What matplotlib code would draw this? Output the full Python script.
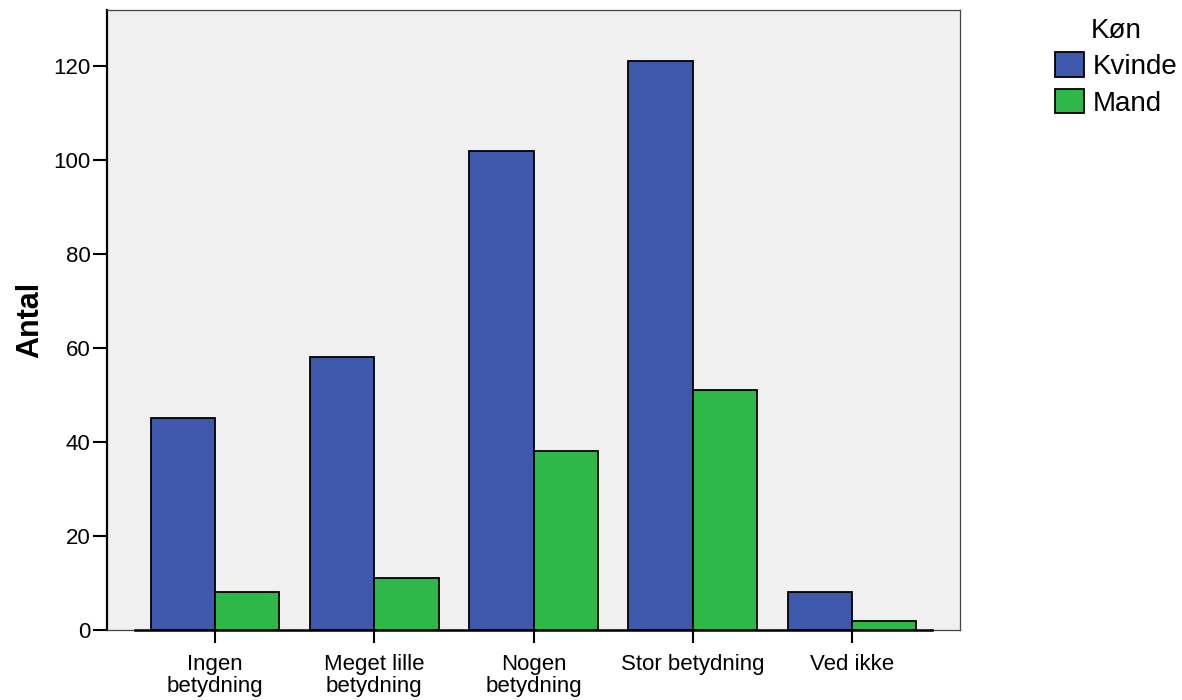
import numpy as np
import matplotlib.pyplot as plt
from matplotlib.patches import Patch

plt.rcParams['font.family'] = ['Liberation Sans', 'DejaVu Sans']

categories = ['Ingen\nbetydning', 'Meget lille\nbetydning', 'Nogen\nbetydning',
              'Stor betydning', 'Ved ikke']
kvinde = [45, 58, 102, 121, 8]
mand = [8, 11, 38, 51, 2]
yticks = [0, 20, 40, 60, 80, 100, 120]

blue = '#3E58AC'
green = '#2EB848'

fig = plt.figure(figsize=(11.82, 7.0), dpi=100)
ax = fig.add_axes([107/1182, 70/700, (960-107)/1182, (630-10)/700])
ax.set_facecolor('#F0F0F0')

x = np.arange(len(categories))
w = 0.404
ax.bar(x - w/2, kvinde, width=w, color=blue, edgecolor='black', linewidth=1.3, zorder=3)
ax.bar(x + w/2, mand, width=w, color=green, edgecolor='black', linewidth=1.3, zorder=3)

# category axis line, shorter than frame
ax.plot([-0.5, 4.5], [0, 0], color='black', linewidth=1.8, clip_on=False, zorder=4)

ax.set_xlim(-0.678, 4.678)
ax.set_ylim(0, 131.9)
ax.set_yticks(yticks)
ax.set_xticks(x)
ax.set_xticklabels(categories, fontsize=16, linespacing=1.05)
ax.tick_params(axis='y', direction='out', length=10, width=1.5, labelsize=16, pad=2)
ax.tick_params(axis='x', direction='out', length=9.5, width=1.5, pad=8)

for s in ['top', 'right', 'bottom']:
    ax.spines[s].set_color('#444444')
    ax.spines[s].set_linewidth(0.9)
ax.spines['left'].set_linewidth(1.6)
ax.spines['left'].set_color('black')

ax.set_ylabel('Antal', fontsize=22, fontweight='bold', labelpad=6)

handles = [Patch(facecolor=blue, edgecolor='black', linewidth=1.3, label='Kvinde'),
           Patch(facecolor=green, edgecolor='black', linewidth=1.3, label='Mand')]
leg = fig.legend(handles=handles, title='Køn', loc='upper left',
                 bbox_to_anchor=(1055/1182, 1 - 18/700), frameon=False,
                 fontsize=20, title_fontsize=20, handlelength=1.05, handleheight=1.0,
                 handletextpad=0.3, labelspacing=0.3, borderpad=0, borderaxespad=0)

fig.savefig('out.png', dpi=100)
